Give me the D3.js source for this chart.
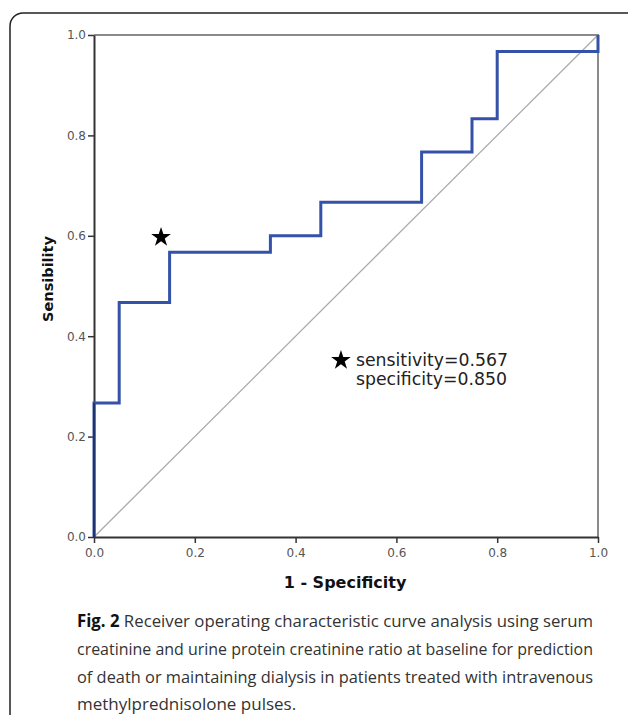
<!DOCTYPE html>
<html>
<head>
<meta charset="utf-8">
<script src="https://cdn.jsdelivr.net/npm/d3@7"></script>
<style>
  body { margin: 0; background: #fff; }
</style>
</head>
<body>
<div class="canvas"></div>
<script>
// ROC curve steps (1 - specificity, sensitivity)
const fpr = [0, 0, 0.05, 0.05, 0.15, 0.15, 0.35, 0.35, 0.45, 0.45, 0.65, 0.65, 0.75, 0.75, 0.8, 0.8, 1.0, 1.0]
const tpr = [0, 0.267, 0.267, 0.467, 0.467, 0.567, 0.567, 0.6, 0.6, 0.667, 0.667, 0.767, 0.767, 0.833, 0.833, 0.967, 0.967, 1.0]
const cutX = 0.133
const cutY = 0.597
const ticks = [0, 0.2, 0.4, 0.6, 0.8, 1.0]
const legendLines = ['sensitivity=0.567', 'specificity=0.850']
const captionLines = [
  'Receiver operating characteristic curve analysis using serum',
  'creatinine and urine protein creatinine ratio at baseline for prediction',
  'of death or maintaining dialysis in patients treated with intravenous',
  'methylprednisolone pulses.'
]

const margin = {top: 35, left: 94}
const graphWidth = 504
const graphHeight = 502

const svg = d3.select('.canvas')
  .append('svg')
  .attr('width', 628)
  .attr('height', 715)

// card frame
svg.append('rect')
  .attr('x', 10).attr('y', 13)
  .attr('width', 640).attr('height', 730)
  .attr('rx', 13)
  .attr('fill', 'none')
  .attr('stroke', '#222')
  .attr('stroke-width', 1.5)

const graph = svg.append('g')
  .attr('transform', `translate(${margin.left}, ${margin.top})`)

const x = d3.scaleLinear().domain([0, 1]).range([0, graphWidth])
const y = d3.scaleLinear().domain([0, 1]).range([graphHeight, 0])

// top and right frame lines
graph.append('path')
  .attr('d', `M0,${y(1)}H${x(1)}V${y(0)}`)
  .attr('fill', 'none')
  .attr('stroke', '#8a8a8a')
  .attr('stroke-width', 2)

// reference diagonal
graph.append('line')
  .attr('x1', x(0)).attr('y1', y(0))
  .attr('x2', x(1)).attr('y2', y(1))
  .attr('stroke', '#aaa')
  .attr('stroke-width', 1.3)

const xAxis = d3.axisBottom(x).tickValues(ticks).tickFormat(d3.format('.1f')).tickSize(6).tickSizeOuter(0)
const yAxis = d3.axisLeft(y).tickValues(ticks).tickFormat(d3.format('.1f')).tickSize(6).tickSizeOuter(0)

const xAxisGroup = graph.append('g')
  .attr('transform', `translate(0, ${graphHeight})`)
  .call(xAxis)
const yAxisGroup = graph.append('g').call(yAxis)

;[xAxisGroup, yAxisGroup].forEach(g => {
  g.select('.domain').attr('stroke', '#333').attr('stroke-width', 2)
  g.selectAll('.tick line').attr('stroke', '#333').attr('stroke-width', 1.5)
  g.selectAll('text')
    .attr('fill', '#555')
    .attr('font-family', 'DejaVu Sans, sans-serif')
    .attr('font-size', 12)
})
xAxisGroup.selectAll('text').attr('dy', '0.95em')
yAxisGroup.selectAll('text').attr('x', -8)

// ROC curve
const line = d3.line()
  .x(d => x(d[0]))
  .y(d => y(d[1]))

graph.append('path')
  .datum(fpr.map((v, i) => [v, tpr[i]]))
  .attr('d', line)
  .attr('fill', 'none')
  .attr('stroke', '#3452a8')
  .attr('stroke-width', 3)
  .attr('stroke-linejoin', 'miter')

// dark edge where the curve runs along the y axis
graph.append('line')
  .attr('x1', x(0)).attr('y1', y(0))
  .attr('x2', x(0)).attr('y2', y(0.267))
  .attr('stroke', '#1a2a5a')
  .attr('stroke-width', 1.5)

const star = d3.symbol().type(d3.symbolStar).size(120)

graph.append('path')
  .attr('d', star)
  .attr('transform', `translate(${x(cutX)}, ${y(cutY)})`)
  .attr('fill', '#000')

// legend
const legend = graph.append('g')
  .attr('transform', `translate(${x(0.49)}, ${y(0.352)})`)

legend.append('path')
  .attr('d', star)
  .attr('fill', '#000')

legend.selectAll('text.leg')
  .data(legendLines)
  .enter()
  .append('text')
  .attr('class', 'leg')
  .attr('x', 15)
  .attr('y', (d, i) => 6 + i * 19)
  .attr('font-family', 'DejaVu Sans, sans-serif')
  .attr('font-size', 17.3)
  .attr('fill', '#222')
  .text(d => d)

// axis titles
graph.append('text')
  .attr('x', graphWidth / 2 - 1)
  .attr('y', graphHeight + 51)
  .attr('text-anchor', 'middle')
  .attr('font-family', 'DejaVu Sans, sans-serif')
  .attr('font-weight', 'bold')
  .attr('font-size', 16)
  .attr('fill', '#111')
  .text('1 - Specificity')

graph.append('text')
  .attr('transform', 'rotate(-90)')
  .attr('x', -graphHeight / 2 + 7)
  .attr('y', -41)
  .attr('text-anchor', 'middle')
  .attr('font-family', 'DejaVu Sans, sans-serif')
  .attr('font-weight', 'bold')
  .attr('font-size', 14.5)
  .attr('fill', '#111')
  .text('Sensibility')

// caption
const caption = svg.append('g')
  .attr('font-family', 'Open Sans, sans-serif')
  .attr('font-size', 17)
  .attr('fill', '#333')

caption.selectAll('text')
  .data(captionLines)
  .enter()
  .append('text')
  .attr('x', 77)
  .attr('y', (d, i) => 627 + i * 27.8)
  .each(function(d, i) {
    const t = d3.select(this)
    if (i === 0) {
      t.append('tspan').attr('font-weight', 'bold').attr('fill', '#111').text('Fig. 2')
      t.append('tspan').text(' ' + d)
    } else {
      t.text(d)
    }
    // squeeze lines that would run past the card edge
    const w = this.getComputedTextLength()
    if (w > 516) t.attr('textLength', 516).attr('lengthAdjust', 'spacingAndGlyphs')
  })
</script>
</body>
</html>
